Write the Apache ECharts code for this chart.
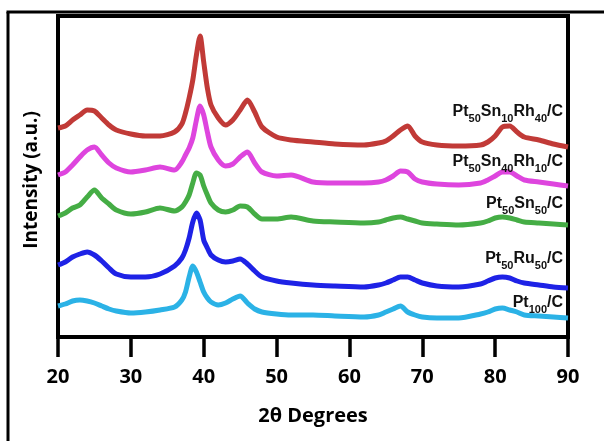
<!DOCTYPE html>
<html>
<head>
<meta charset="utf-8">
<script src="https://cdn.jsdelivr.net/npm/echarts@6/dist/echarts.min.js"></script>
<style>html,body{margin:0;padding:0;background:#fff;}#c{width:604px;height:441px;}</style>
</head>
<body>
<div id="c"></div>
<script>
// 2θ sample positions (degrees)
var twoTheta = [20,21,22,23,24,25,26,27,28,30,32,34,36,37,37.5,38,38.5,39,39.5,40,40.5,41,42,43,44,45,46,47,48,50,52,55,58,62,64,65,66,67,68,69,70,72,75,78,79,80,81,82,83,84,86,88,90];

// Intensities (a.u., stacked offsets as drawn)
var ptSn10Rh40 = [209,211,217,222,227,226,219,212,207,203,201,201,205,213,224,239,257,282,301,275,249,232,219,212,217,227,237,225,210,200,197,195,193,192,194,196,201,207,211,201,195,192,191,192,195,201,210,211,205,200,197,193,190];
var ptSn40Rh10 = [162,165,172,180,187,190,182,174,169,165,167,170,167,175,182,189,199,217,231,222,205,190,177,171,173,180,185,174,165,161,162,155,154,154,155,157,161,166,165,158,155,153,152,154,157,161,165,165,161,157,155,153,151];
var ptSn50 = [121,124,129,132,140,147,139,133,127,123,125,129,126,130,135,142,154,164,162,151,142,134,127,125,127,131,130,123,118,118,120,116,115,114,115,117,119,120,118,116,114,113,112,114,116,119,120,119,117,115,114,113,112];
var ptRu50 = [72,75,80,83,85,82,76,69,63,60,60,63,71,79,87,99,115,124,117,97,89,82,77,75,76,78,73,66,60,56,54,52,51,50,52,54,57,60,60,57,54,51,50,53,56,59,60,59,56,54,52,50,49];
var pt100 = [31,33,36,37,36,34,31,28,26,24,25,27,30,37,45,60,71,65,55,45,39,35,32,34,38,41,34,28,25,23,22,22,21,20,22,25,28,31,25,22,20,19,19,23,25,28,29,27,25,22,21,20,19];

var seriesNames = ['Pt50Sn10Rh40/C','Pt50Sn40Rh10/C','Pt50Sn50/C','Pt50Ru50/C','Pt100/C'];
var seriesLabels = ['{m|Pt}{s|50}{m|Sn}{s|10}{m|Rh}{s|40}{m|/C}','{m|Pt}{s|50}{m|Sn}{s|40}{m|Rh}{s|10}{m|/C}','{m|Pt}{s|50}{m|Sn}{s|50}{m|/C}','{m|Pt}{s|50}{m|Ru}{s|50}{m|/C}','{m|Pt}{s|100}{m|/C}'];
var xTicks = [20,30,40,50,60,70,80,90];

var colors = ['#c13a37','#de45de','#45ad45','#1e22e6','#2bb2e6'];
var allData = [ptSn10Rh40, ptSn40Rh10, ptSn50, ptRu50, pt100];
var labelY = [110,160,202,257,301];

function pairs(arr){ return twoTheta.map(function(t,i){ return [t, arr[i]]; }); }

var chart = echarts.init(document.getElementById('c'), null, {renderer:'canvas'});
var series = allData.map(function(d, i){
  return {
    name: seriesNames[i], type:'line', data: pairs(d), showSymbol:false, smooth:0.25,
    lineStyle:{color:colors[i], width:5}, itemStyle:{color:colors[i]}, z: 2 + i
  };
});

var graphics = [
  {type:'line', shape:{x1:8, y1:12, x2:8, y2:441}, style:{stroke:'#000', lineWidth:3}},
  {type:'line', shape:{x1:6.5, y1:12, x2:604, y2:12}, style:{stroke:'#000', lineWidth:3}},
  {type:'text', x:32, y:180, rotation:Math.PI/2, style:{text:'Intensity (a.u.)', fill:'#000', fontFamily:'Open Sans', fontWeight:'bold', fontSize:19, align:'center', verticalAlign:'middle'}}
];
seriesLabels.forEach(function(t, i){
  graphics.push({type:'text', x:563, y:labelY[i] + 2, z:100, style:{
    text:t, fill:'#111', align:'right', verticalAlign:'middle',
    rich:{
      m:{fontFamily:'Liberation Sans', fontWeight:'bold', fontSize:16, lineHeight:16, verticalAlign:'top', fill:'#111'},
      s:{fontFamily:'Liberation Sans', fontWeight:'bold', fontSize:11, lineHeight:11, verticalAlign:'top', padding:[9,0,0,0], fill:'#111'}
    }
  }});
});

chart.setOption({
  animation:false,
  backgroundColor:'#fff',
  grid:{left:58, right:36, top:16, bottom:104, show:true, borderColor:'#000', borderWidth:4, backgroundColor:'transparent'},
  xAxis:{
    type:'value', min:20, max:90, interval:10,
    axisLine:{show:true, lineStyle:{color:'#000', width:4}},
    axisTick:{show:true, inside:false, length:20, lineStyle:{color:'#000', width:3.5}},
    axisLabel:{color:'#000', fontFamily:'Open Sans', fontWeight:'bold', fontSize:20, margin:30,
      formatter:function(v){ return xTicks.indexOf(v) >= 0 ? String(v) : ''; }},
    splitLine:{show:false},
    name:'2θ Degrees', nameLocation:'middle', nameGap:69,
    nameTextStyle:{color:'#000', fontFamily:'Open Sans', fontWeight:'bold', fontSize:20}
  },
  yAxis:{
    type:'value', min:0, max:321,
    axisLine:{show:false}, axisTick:{show:false}, axisLabel:{show:false}, splitLine:{show:false}
  },
  series: series,
  graphic: graphics
});
</script>
</body>
</html>
